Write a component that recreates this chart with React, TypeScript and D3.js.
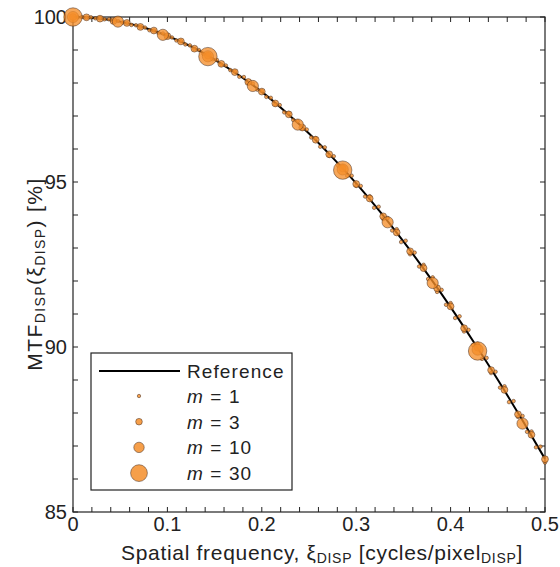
import React from "react";
import * as d3 from "d3";

// Reference MTF curve
const refFreq = [0, 0.025, 0.05, 0.075, 0.1, 0.125, 0.15, 0.175, 0.2, 0.225, 0.25, 0.275, 0.3, 0.325, 0.35, 0.375, 0.4, 0.425, 0.45, 0.475, 0.5];
const refMtf = [100, 99.96, 99.86, 99.68, 99.43, 99.11, 98.71, 98.25, 97.73, 97.13, 96.47, 95.74, 94.96, 94.11, 93.2, 92.23, 91.21, 90.13, 89.01, 87.83, 86.61];

// m = 1
const m1Freq = [0, .0048, .0095, .0143, .0190, .0238, .0286, .0333, .0381, .0429, .0476, .0524, .0571, .0619, .0667, .0714, .0762, .0810, .0857, .0905, .0952, .1000, .1048, .1095, .1143, .1190, .1238, .1286, .1333, .1381, .1429, .1476, .1524, .1571, .1619, .1667, .1714, .1762, .1810, .1857, .1905, .1952, .2000, .2048, .2095, .2143, .2190, .2238, .2286, .2333, .2381, .2429, .2476, .2524, .2571, .2619, .2667, .2714, .2762, .2810, .2857, .2905, .2952, .3000, .3048, .3095, .3143, .3190, .3238, .3286, .3333, .3381, .3429, .3476, .3524, .3571, .3619, .3667, .3714, .3762, .3810, .3857, .3905, .3952, .4000, .4048, .4095, .4143, .4190, .4238, .4286, .4333, .4381, .4429, .4476, .4524, .4571, .4619, .4667, .4714, .4762, .4810, .4857, .4905, .4952, .5000];
const m1Mtf = [100.00, 99.99, 100.00, 99.98, 99.99, 99.96, 99.96, 99.93, 99.93, 99.88, 99.88, 99.83, 99.82, 99.76, 99.75, 99.70, 99.68, 99.60, 99.59, 99.52, 99.50, 99.41, 99.38, 99.29, 99.27, 99.17, 99.14, 99.03, 99.00, 98.88, 98.85, 98.72, 98.70, 98.56, 98.53, 98.39, 98.35, 98.19, 98.18, 98.00, 97.98, 97.80, 97.76, 97.58, 97.55, 97.35, 97.33, 97.11, 97.09, 96.88, 96.84, 96.62, 96.59, 96.35, 96.33, 96.07, 96.05, 95.79, 95.78, 95.49, 95.47, 95.19, 95.19, 94.88, 94.88, 94.56, 94.57, 94.22, 94.25, 93.88, 93.91, 93.53, 93.57, 93.18, 93.22, 92.81, 92.86, 92.44, 92.49, 92.06, 92.11, 91.67, 91.73, 91.28, 91.33, 90.88, 90.93, 90.47, 90.52, 90.06, 90.10, 89.64, 89.67, 89.21, 89.25, 88.77, 88.81, 88.33, 88.36, 87.88, 87.91, 87.43, 87.44, 86.96, 86.98, 86.50];

// m = 3
const m3Freq = [0, .0143, .0286, .0429, .0571, .0714, .0857, .1000, .1143, .1286, .1429, .1571, .1714, .1857, .2000, .2143, .2286, .2429, .2571, .2714, .2857, .3000, .3143, .3286, .3429, .3571, .3714, .3857, .4000, .4143, .4286, .4429, .4571, .4714, .4857, .5000];
const m3Mtf = [100.00, 99.99, 99.95, 99.88, 99.82, 99.70, 99.59, 99.42, 99.26, 99.04, 98.83, 98.58, 98.33, 98.03, 97.74, 97.38, 97.05, 96.65, 96.28, 95.84, 95.41, 94.94, 94.50, 93.96, 93.47, 92.90, 92.39, 91.78, 91.23, 90.57, 89.98, 89.30, 88.70, 87.96, 87.34, 86.60];

// m = 10
const m10Freq = [0, .0476, .0952, .1429, .1905, .2381, .2857, .3333, .3810, .4286, .4762];
const m10Mtf = [100.0, 99.86, 99.46, 98.81, 97.91, 96.74, 95.38, 93.78, 91.94, 89.92, 87.68];

// m = 30
const m30Freq = [0, .1429, .2857, .4286];
const m30Mtf = [100.0, 98.80, 95.36, 89.88];

const xTicks = [0, 0.1, 0.2, 0.3, 0.4, 0.5];
const xMinor = [0.02, 0.04, 0.06, 0.08, 0.12, 0.14, 0.16, 0.18, 0.22, 0.24, 0.26, 0.28, 0.32, 0.34, 0.36, 0.38, 0.42, 0.44, 0.46, 0.48];
const yTicks = [85, 90, 95, 100];
const yMinor = [86, 87, 88, 89, 91, 92, 93, 94, 96, 97, 98, 99];

const seriesLabels = ["1", "3", "10", "30"];

const FONT = "'Liberation Sans', Arial, Helvetica, sans-serif";
const FILL = "rgb(245,142,42)";
const STROKE = "#4a3020";

export default function App() {
  const W = 560, H = 567;
  const L = 73, R = 545, T = 17, B = 512;
  const x = d3.scaleLinear().domain([0, 0.5]).range([L, R]);
  const y = d3.scaleLinear().domain([85, 100]).range([B, T]);
  const line = d3.line<number>().x((_, i) => x(refFreq[i])).y((d) => y(d)).curve(d3.curveMonotoneX);

  const series = [
    { f: m1Freq, v: m1Mtf, r: 1.8 },
    { f: m3Freq, v: m3Mtf, r: 3.4 },
    { f: m10Freq, v: m10Mtf, r: 5.6 },
    { f: m30Freq, v: m30Mtf, r: 9.2 },
  ];
  const legR = [1.7, 3.3, 5.2, 8.4];
  const tl = 5;
  const allX = [...xTicks, ...xMinor];
  const allY = [...yTicks, ...yMinor];

  const legX = 91, legY = 353, legW = 201, legH = 137;

  return (
    <svg width={W} height={H} style={{ position: "absolute", left: 0, top: 0, background: "#fff" }} fontFamily={FONT}>
      <rect x={0} y={0} width={W} height={H} fill="#fff" />
      {/* ticks */}
      <g stroke="#222" strokeWidth={1}>
        {allX.map((t, i) => (
          <g key={"x" + i}>
            <line x1={x(t)} x2={x(t)} y1={B} y2={B - tl} />
            <line x1={x(t)} x2={x(t)} y1={T} y2={T + tl} />
          </g>
        ))}
        {allY.map((t, i) => (
          <g key={"y" + i}>
            <line x1={L} x2={L + tl} y1={y(t)} y2={y(t)} />
            <line x1={R} x2={R - tl} y1={y(t)} y2={y(t)} />
          </g>
        ))}
      </g>
      <rect x={L} y={T} width={R - L} height={B - T} fill="none" stroke="#222" strokeWidth={1.2} />
      {/* tick labels */}
      <g fontSize={20} fill="#222">
        {xTicks.map((t) => (
          <text key={"xl" + t} x={x(t)} y={B + 19} textAnchor="middle">{String(t)}</text>
        ))}
        {yTicks.map((t) => (
          <text key={"yl" + t} x={L - 6} y={y(t) + 7} textAnchor="end">{String(t)}</text>
        ))}
      </g>
      {/* axis titles */}
      <text x={322} y={560} textAnchor="middle" fontSize={21} fill="#222" letterSpacing={0.7}>
        Spatial frequency, ξ<tspan fontSize={14} dy={3}>DISP</tspan>
        <tspan dy={-3}> [cycles/pixel</tspan>
        <tspan fontSize={14} dy={3}>DISP</tspan>
        <tspan dy={-3}>]</tspan>
      </text>
      <text transform={`translate(42, 274) rotate(-90)`} textAnchor="middle" fontSize={21} fill="#222" letterSpacing={1.4}>
        MTF<tspan fontSize={14} dy={3}>DISP</tspan>
        <tspan dy={-3}>(ξ</tspan>
        <tspan fontSize={14} dy={3}>DISP</tspan>
        <tspan dy={-3}>) [%]</tspan>
      </text>
      {/* reference line */}
      <path d={line(refMtf) || ""} fill="none" stroke="#000" strokeWidth={2} />
      {/* markers */}
      {series.map((s, si) => (
        <g key={"s" + si}>
          {s.f.map((f, i) => (
            <circle key={i} cx={x(f)} cy={y(s.v[i])} r={s.r} fill={FILL} fillOpacity={0.78} stroke={STROKE} strokeOpacity={0.75} strokeWidth={0.7} />
          ))}
        </g>
      ))}
      {/* legend */}
      <rect x={legX} y={legY} width={legW} height={legH} fill="#fff" stroke="#222" strokeWidth={1.2} />
      <line x1={99} x2={180} y1={371} y2={371} stroke="#000" strokeWidth={2} />
      <text x={187} y={378} fontSize={19} fill="#222" letterSpacing={1.1}>Reference</text>
      {series.map((s, i) => (
        <g key={"leg" + i}>
          <circle cx={139} cy={396 + i * 25.7} r={legR[i]} fill={FILL} fillOpacity={0.85} stroke={STROKE} strokeOpacity={0.75} strokeWidth={0.7} />
          <text x={187} y={403 + i * 25.7} fontSize={19} fill="#222" letterSpacing={1.1}>
            <tspan fontStyle="italic">m</tspan> = {seriesLabels[i]}
          </text>
        </g>
      ))}
    </svg>
  );
}
